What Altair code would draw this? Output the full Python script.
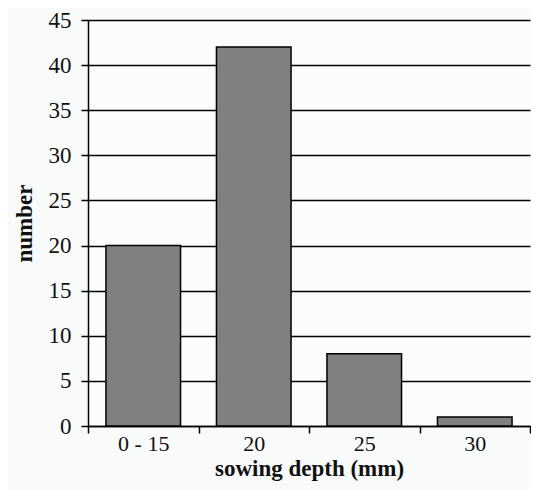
import altair as alt
import pandas as pd

categories = ["0 - 15", "20", "25", "30"]
values = [20, 42, 8, 1]

df = pd.DataFrame({"depth": categories, "number": values})

font = "Liberation Serif"

chart = alt.Chart(df).mark_bar(
    color="#808080", stroke="black", strokeWidth=1.5,
    width=alt.RelativeBandSize(0.675)
).encode(
    x=alt.X("depth:N", sort=categories,
            scale=alt.Scale(paddingInner=0, paddingOuter=0),
            axis=alt.Axis(title="sowing depth (mm)", labelAngle=0, tickBand="extent",
                          grid=False, domainColor="black", domainWidth=1.5,
                          tickColor="black", tickWidth=1.5, tickSize=7,
                          labelFont=font, labelFontSize=22, labelColor="#111",
                          labelPadding=0,
                          titleFont=font, titleFontSize=23, titleFontWeight="bold",
                          titleColor="#111", titlePadding=3)),
    y=alt.Y("number:Q", scale=alt.Scale(domain=[0, 45]),
            axis=alt.Axis(title="number", values=list(range(0, 50, 5)),
                          grid=True, gridColor="black", gridWidth=1.5, gridOpacity=1,
                          domainColor="black", domainWidth=1.5,
                          tickColor="black", tickWidth=1.5, tickSize=7,
                          labelFont=font, labelFontSize=23, labelColor="#111",
                          labelPadding=10,
                          titleFont=font, titleFontSize=23, titleFontWeight="bold",
                          titleColor="#111", titlePadding=12)),
).properties(
    width=442, height=406,
    autosize=alt.AutoSizeParams(type="none"),
    padding={"left": 80, "top": 12, "right": 1, "bottom": 63},
    background="#f9fbfb",
).configure_view(stroke=None, fill="#fbfdfd")

chart.save("out.html", embed_options={"renderer": "svg", "actions": False})
